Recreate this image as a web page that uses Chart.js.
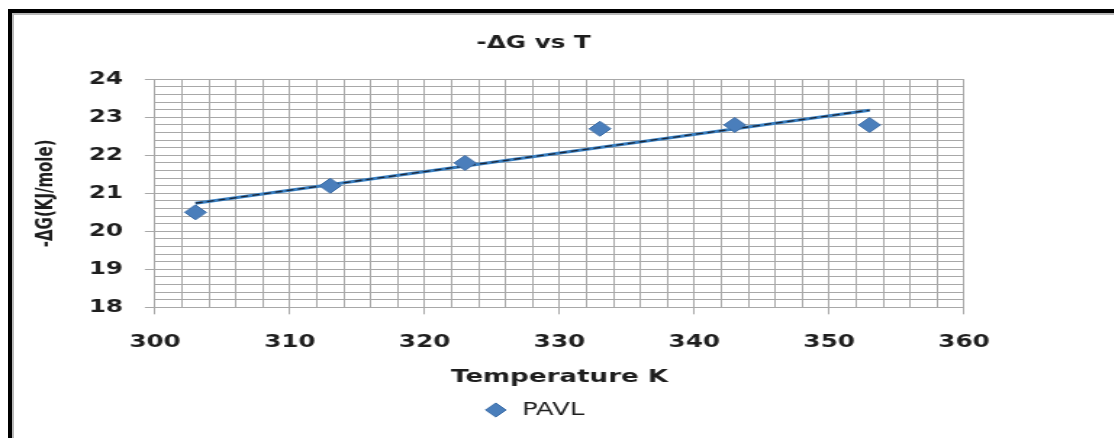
<!DOCTYPE html>
<html lang="en">
<head>
<meta charset="UTF-8">
<title>-ΔG vs T</title>
<script src="https://cdn.jsdelivr.net/npm/chart.js"></script>
<style>
  html, body { margin: 0; padding: 0; background: #fff; overflow: hidden; }
  body { width: 1114px; height: 438px; position: relative; }
  /* black frame lines along the top and left edges */
  .edge { position: absolute; background: #000; }
  .edge.top { left: 8px; top: 9px; width: 1106px; height: 4px; }
  .edge.left { left: 8px; top: 9px; width: 4px; height: 429px; }
  .edge.top.soft { background: #b8b8b8; left: 12px; top: 13px; height: 2px; width: 1102px; }
  .edge.left.soft { background: #b8b8b8; left: 12px; top: 13px; width: 2px; height: 425px; }
  /* chart is drawn narrow and stretched sideways */
  .chart-box { position: absolute; left: 0; top: 0; width: 740px; height: 438px;
               transform: scaleX(1.45); transform-origin: 0 0; }
</style>
</head>
<body>
<div class="edge top"></div>
<div class="edge left"></div>
<div class="edge top soft"></div>
<div class="edge left soft"></div>
<div class="chart-box"><canvas id="dgChart"></canvas></div>

<script>
// -ΔG (kJ/mole) for PAVL at each temperature (K)
const temperatures = [303, 313, 323, 333, 343, 353];
const deltaG = [20.5, 21.2, 21.8, 22.7, 22.8, 22.8];

// linear trend line end points
const trendT = [303, 353];
const trendG = [20.74, 23.19];

// labelled tick values
const xTicks = [300, 310, 320, 330, 340, 350, 360];
const yTicks = [18, 19, 20, 21, 22, 23, 24];

const gridColor = '#a8a8a8';
const textColor = '#1e1e1e';
const FONT = 'DejaVu Sans';

const isLabelled = (list, v) => list.some(t => Math.abs(t - v) < 1e-6);

const points = temperatures.map((t, i) => ({ x: t, y: deltaG[i] }));
const trend = trendT.map((t, i) => ({ x: t, y: trendG[i] }));

new Chart(document.getElementById('dgChart'), {
    type: 'scatter',
    data: {
        datasets: [
            {
                label: 'PAVL',
                data: points,
                pointStyle: 'rectRot',
                pointRadius: 7.5,
                pointHoverRadius: 7.5,
                backgroundColor: '#4a7ebb',
                borderColor: '#3d6ea8',
                borderWidth: 1,
                order: 0
            },
            {
                label: 'trend',
                type: 'line',
                data: trend,
                borderColor: '#3a80c2',
                borderWidth: 3,
                pointRadius: 0,
                fill: false,
                order: 2
            },
            {
                label: 'trend dash',
                type: 'line',
                data: trend,
                borderColor: '#1b2638',
                borderWidth: 1.3,
                borderDash: [5, 3],
                pointRadius: 0,
                fill: false,
                order: 1
            }
        ]
    },
    options: {
        responsive: true,
        maintainAspectRatio: false,
        animation: false,
        layout: { padding: { top: 0, left: 0, right: 4, bottom: 9 } },
        plugins: {
            title: {
                display: true,
                text: '-ΔG vs T',
                color: textColor,
                font: { family: FONT, size: 17, weight: 'bold' },
                padding: { top: 33, bottom: 26 }
            },
            legend: {
                position: 'bottom',
                labels: {
                    usePointStyle: true,
                    boxHeight: 10,
                    color: textColor,
                    font: { family: FONT, size: 18 },
                    filter: item => item.text === 'PAVL'
                }
            },
            tooltip: { enabled: false }
        },
        scales: {
            x: {
                type: 'linear',
                min: 300,
                max: 360,
                afterFit: s => { s.height = 83.7; },
                ticks: {
                    stepSize: 2,
                    autoSkip: false,
                    maxRotation: 0,
                    padding: 18,
                    color: textColor,
                    font: { family: FONT, size: 17, weight: 'bold' },
                    callback: v => isLabelled(xTicks, v) ? String(Math.round(v)) : ''
                },
                grid: {
                    color: gridColor,
                    lineWidth: 1,
                    tickLength: 7,
                    tickColor: c => (c.tick && isLabelled(xTicks, c.tick.value)) ? gridColor : 'rgba(0,0,0,0)'
                },
                border: { color: gridColor },
                title: {
                    display: true,
                    text: 'Temperature K',
                    color: textColor,
                    font: { family: FONT, size: 18, weight: 'bold' },
                    padding: { top: 0, bottom: 3 }
                }
            },
            y: {
                type: 'linear',
                min: 18,
                max: 24,
                afterFit: s => { s.width = 106.9; },
                ticks: {
                    stepSize: 0.2,
                    autoSkip: false,
                    padding: 15,
                    color: textColor,
                    font: { family: FONT, size: 17, weight: 'bold' },
                    callback: v => isLabelled(yTicks, v) ? String(Math.round(v)) : ''
                },
                grid: {
                    color: gridColor,
                    lineWidth: 1,
                    tickLength: 7,
                    tickColor: c => (c.tick && isLabelled(yTicks, c.tick.value)) ? gridColor : 'rgba(0,0,0,0)'
                },
                border: { color: gridColor },
                title: {
                    display: true,
                    text: '-ΔG(KJ/mole)',
                    color: textColor,
                    font: { family: FONT, size: 15, weight: 'bold' },
                    padding: { top: 23, bottom: 0 }
                }
            },
            // empty space on the right so the title and legend sit centred
            yRight: {
                type: 'linear',
                position: 'right',
                display: true,
                afterFit: s => { s.width = 71.2; },
                ticks: { display: false },
                grid: { display: false, drawTicks: false },
                border: { display: false }
            }
        }
    }
});
</script>
</body>
</html>
